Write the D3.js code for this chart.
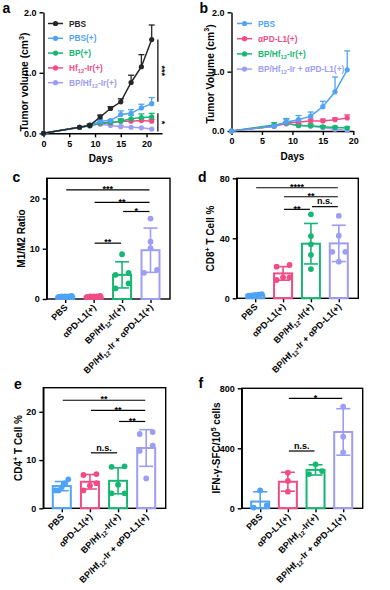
<!DOCTYPE html>
<html><head><meta charset="utf-8">
<script src="https://cdn.jsdelivr.net/npm/d3@7"></script>
<style>body{margin:0;background:#fff}text{font-family:"Liberation Sans",Arial,sans-serif;font-weight:bold}</style>
</head><body>
<svg id="fig" width="390" height="590" xmlns="http://www.w3.org/2000/svg"></svg>
<script>
// ---------- DATA ----------
const daysA = [0, 7, 9, 11, 13, 15, 17, 19, 21];
const seriesNamesA = ["PBS", "PBS(+)", "BP(+)", "Hf_{12}-Ir(+)", "BP/Hf_{12}-Ir(+)"];
const aPBS     = [0, 0.10, 0.13, 0.27, 0.41, 0.52, 0.84, 1.10, 1.55];
const aPBSErr  = [0, 0.01, 0.02, 0.03, 0.03, 0.05, 0.12, 0.20, 0.24];
const aPBSp    = [0, 0.10, 0.13, 0.20, 0.21, 0.31, 0.33, 0.42, 0.49];
const aPBSpErr = [0, 0.01, 0.02, 0.03, 0.02, 0.06, 0.06, 0.06, 0.10];
const aBP      = [0, 0.10, 0.12, 0.17, 0.18, 0.20, 0.24, 0.26, 0.27];
const aBPErr   = [0, 0.01, 0.02, 0.03, 0.03, 0.04, 0.06, 0.06, 0.06];
const aHf      = [0, 0.10, 0.13, 0.16, 0.17, 0.20, 0.20, 0.21, 0.20];
const aHfErr   = [0, 0.01, 0.02, 0.02, 0.02, 0.03, 0.03, 0.03, 0.03];
const aBPHf    = [0, 0.10, 0.14, 0.15, 0.13, 0.11, 0.10, 0.09, 0.07];
const aBPHfErr = [0, 0.01, 0.02, 0.02, 0.02, 0.02, 0.01, 0.01, 0.01];
const xTicksA = [0, 5, 10, 15, 20];
const yTicksA = [0, 1, 2];
const sigA = [[1.55, 0.52, "***"], [0.33, 0.03, "*"]];

const daysB = [0, 7, 9, 11, 13, 15, 17, 19];
const seriesNamesB = ["PBS", "αPD-L1(+)", "BP/Hf_{12}-Ir(+)", "BP/Hf_{12}-Ir + αPD-L1(+)"];
const bPBS      = [0, 0.08, 0.15, 0.19, 0.25, 0.41, 0.66, 1.03];
const bPBSErr   = [0, 0.02, 0.05, 0.07, 0.07, 0.09, 0.25, 0.32];
const bPD       = [0, 0.08, 0.14, 0.15, 0.17, 0.17, 0.19, 0.22];
const bPDErr    = [0, 0.01, 0.02, 0.02, 0.03, 0.03, 0.03, 0.05];
const bBPHf     = [0, 0.10, 0.13, 0.09, 0.09, 0.07, 0.06, 0.05];
const bBPHfErr  = [0, 0.04, 0.08, 0.03, 0.03, 0.02, 0.02, 0.02];
const bCombo    = [0, 0.08, 0.12, 0.10, 0.08, 0.06, 0.03, 0.01];
const bComboErr = [0, 0.02, 0.03, 0.02, 0.02, 0.01, 0.01, 0.01];
const xTicksB = [0, 5, 10, 15, 20];
const yTicksB = [0, 1, 2];

const groups = ["PBS", "αPD-L1(+)", "BP/Hf_{12}-Ir(+)", "BP/Hf_{12}-Ir + αPD-L1(+)"];

const cMean = [0.5, 0.5, 4.8, 9.7];
const cSD   = [0.1, 0.1, 2.6, 4.4];
const cDots = [[0.4, 0.5, 0.5, 0.6, 0.5], [0.5, 0.4, 0.6, 0.5, 0.5], [8.9, 5.2, 4.8, 3.1, 2.1], [16.0, 11.4, 10.1, 5.8, 5.2]];
const cTicks = [0, 10, 20];
const cSig = [[0, 3, "***", 21.7], [1, 3, "**", 19.2], [2, 3, "*", 17.4], [1, 2, "**", 11.1]];

const dMean = [2.3, 16.6, 36.4, 36.6];
const dSD   = [0.4, 4.5, 13.5, 12.1];
const dDots = [[2.5, 2.0, 2.8, 1.8, 2.3], [22.2, 21.1, 12.2, 14.0, 14.0], [56, 41.5, 36, 29, 19.5], [55, 41.7, 31, 31, 24.4]];
const dTicks = [0, 40, 80];
const dSig = [[0, 3, "****", 73.7], [1, 3, "**", 67.7], [1, 2, "**", 59.3], [2, 3, "n.s.", 61.1]];

const eMean = [4.6, 5.5, 5.7, 12.5];
const eSD   = [0.95, 1.5, 2.7, 3.8];
const eDots = [[6.0, 5.2, 3.7, 3.7, 4.4], [6.9, 7.1, 3.7, 4.7, 5.2], [8.7, 8.6, 4.9, 3.1, 3.1], [15.8, 15.4, 13.0, 11.9, 6.2]];
const eTicks = [0, 10, 20];
const eSig = [[0, 3, "**", 22.4], [1, 3, "**", 20.3], [2, 3, "**", 18.0], [1, 2, "n.s.", 11.5]];

const fMean = [45, 177, 256, 509];
const fSD   = [65, 63, 34, 155];
const fDots = [[120, 5, 20], [237, 182, 111], [293, 248, 228], [677, 477, 373]];
const fTicks = [0, 400, 800];
const fSig = [[1, 3, "*", 733], [1, 2, "n.s.", 382]];

// ---------- STYLE ----------
const COL = {black: "#262626", blue: "#4fa3f7", pink: "#f14c86", green: "#16b773", purple: "#9d9df6"};
const svg = d3.select("#fig");
const FONT = 9;
const LFONT = 8.3;

function rich(t, s, fs) {
  const parts = s.split(/(_\{[^}]*\}|\^\{[^}]*\})/).filter(p => p.length);
  let pending = 0;
  parts.forEach(p => {
    if (p.startsWith("_{")) {
      t.append("tspan").attr("font-size", fs * 0.7).attr("dy", fs * 0.25).text(p.slice(2, -1));
      pending = -fs * 0.25;
    } else if (p.startsWith("^{")) {
      t.append("tspan").attr("font-size", fs * 0.7).attr("dy", -fs * 0.4).text(p.slice(2, -1));
      pending = fs * 0.4;
    } else {
      const ts = t.append("tspan").text(p);
      if (pending) { ts.attr("dy", pending); pending = 0; }
    }
  });
  return t;
}

function styleAxis(g) {
  g.select(".domain").attr("stroke", "#000").attr("stroke-width", 1.4);
  g.selectAll(".tick line").attr("stroke", "#000").attr("stroke-width", 1.4);
  g.selectAll(".tick text").attr("fill", "#000").attr("font-size", FONT).attr("font-weight", "bold")
    .attr("font-family", '"Liberation Sans", Arial, sans-serif');
}

function panelLetter(l, x, y) {
  svg.append("text").attr("x", x).attr("y", y).attr("font-size", 14).attr("fill", "#000").text(l);
}

function yTitle(str, cx, cy, fs) {
  const t = svg.append("text").attr("transform", `translate(${cx},${cy}) rotate(-90)`)
    .attr("text-anchor", "middle").attr("font-size", fs).attr("fill", "#000");
  rich(t, str, fs);
}

// ---------- LINE PANELS ----------
function linePanel(o) {
  const x = d3.scaleLinear().domain(o.xDomain).range([o.left, o.right]);
  const y = d3.scaleLinear().domain(o.yDomain).range([o.bottom, o.top]);
  const g = svg.append("g");
  g.append("g").attr("transform", `translate(0,${o.bottom})`)
    .call(d3.axisBottom(x).tickValues(o.xTicks).tickSize(4).tickSizeOuter(0)).call(styleAxis);
  g.append("g").attr("transform", `translate(${o.left},0)`)
    .call(d3.axisLeft(y).tickValues(o.yTicks).tickSize(4).tickSizeOuter(0)).call(styleAxis);
  const line = d3.line().x(d => x(d[0])).y(d => y(d[1]));
  o.series.slice().reverse().forEach(s => {
    const pts = o.days.map((d, i) => [d, s.values[i], s.err[i]]);
    const sg = g.append("g");
    sg.append("path").attr("d", line(pts)).attr("fill", "none").attr("stroke", s.color).attr("stroke-width", 1.5);
    pts.forEach(p => {
      if (p[2] > 0.015) {
        sg.append("line").attr("x1", x(p[0])).attr("x2", x(p[0])).attr("y1", y(p[1])).attr("y2", y(p[1] + p[2]))
          .attr("stroke", s.color).attr("stroke-width", 1.3);
        sg.append("line").attr("x1", x(p[0]) - 3).attr("x2", x(p[0]) + 3).attr("y1", y(p[1] + p[2])).attr("y2", y(p[1] + p[2]))
          .attr("stroke", s.color).attr("stroke-width", 1.3);
      }
    });
    sg.selectAll("circle").data(pts).join("circle").attr("cx", p => x(p[0])).attr("cy", p => y(p[1]))
      .attr("r", 2.6).attr("fill", s.color);
  });
  // legend
  o.series.forEach((s, i) => {
    const ly = o.legY + i * o.legStep;
    g.append("line").attr("x1", o.legX).attr("x2", o.legX + 15).attr("y1", ly).attr("y2", ly)
      .attr("stroke", s.color).attr("stroke-width", 1.5);
    g.append("circle").attr("cx", o.legX + 7.5).attr("cy", ly).attr("r", 2.6).attr("fill", s.color);
    const t = g.append("text").attr("x", o.legX + 21).attr("y", ly + 3).attr("font-size", LFONT).attr("fill", s.color);
    rich(t, s.name, LFONT);
  });
  // x title
  g.append("text").attr("x", (o.left + o.right) / 2 + o.xTitleDx).attr("y", o.bottom + 29).attr("text-anchor", "middle")
    .attr("font-size", 10).attr("fill", "#000").text("Days");
  return {x, y, g};
}

const colA = [COL.black, COL.blue, COL.green, COL.pink, COL.purple];
const valsA = [aPBS, aPBSp, aBP, aHf, aBPHf];
const errA = [aPBSErr, aPBSpErr, aBPErr, aHfErr, aBPHfErr];
const pa = linePanel({
  left: 43.5, right: 162, top: 12.3, bottom: 133.3, xDomain: [0, 23], yDomain: [0, 2],
  xTicks: xTicksA, yTicks: yTicksA, days: daysA,
  series: seriesNamesA.map((n, i) => ({name: n, color: colA[i], values: valsA[i], err: errA[i]})),
  legX: 48, legY: 23.5, legStep: 14.8, xTitleDx: -2
});
sigA.forEach(s => {
  const xx = pa.x(22.2);
  pa.g.append("line").attr("x1", xx).attr("x2", xx).attr("y1", pa.y(s[0])).attr("y2", pa.y(s[1]))
    .attr("stroke", "#000").attr("stroke-width", 1.2);
  pa.g.append("text").attr("transform", `translate(${xx + 1.5},${(pa.y(s[0]) + pa.y(s[1])) / 2}) rotate(90)`)
    .attr("text-anchor", "middle").attr("font-size", FONT).attr("fill", "#000").text(s[2]);
});

const colB = [COL.blue, COL.pink, COL.green, COL.purple];
const valsB = [bPBS, bPD, bBPHf, bCombo];
const errB = [bPBSErr, bPDErr, bBPHfErr, bComboErr];
linePanel({
  left: 231.5, right: 353.3, top: 12.3, bottom: 131, xDomain: [0, 20], yDomain: [0, 2],
  xTicks: xTicksB, yTicks: yTicksB, days: daysB,
  series: seriesNamesB.map((n, i) => ({name: n, color: colB[i], values: valsB[i], err: errB[i]})),
  legX: 237, legY: 23.5, legStep: 15.2, xTitleDx: 0
});

yTitle("Tumor volume (cm^{3})", 28, 82, 10.3);
yTitle("Tumor Volume (cm^{3})", 213.5, 74, 10.3);

// ---------- BAR PANELS ----------
const colG = [COL.blue, COL.pink, COL.green, COL.purple];
function barPanel(o) {
  const x = d3.scalePoint().domain(groups).range([o.left + 18.5, o.right - 19.5]);
  const y = d3.scaleLinear().domain(o.yDomain).range([o.bottom, o.top]);
  const g = svg.append("g");
  g.append("g").attr("transform", `translate(${o.left},0)`)
    .call(d3.axisLeft(y).tickValues(o.ticks).tickSize(4).tickSizeOuter(0)).call(styleAxis);
  const xa = g.append("g").attr("transform", `translate(0,${o.bottom})`)
    .call(d3.axisBottom(x).tickSize(4).tickSizeOuter(0).tickFormat(""));
  styleAxis(xa);
  xa.select(".domain").remove();
  g.append("rect").attr("x", o.left).attr("y", o.top).attr("width", o.right - o.left).attr("height", o.bottom - o.top)
    .attr("fill", "none").attr("stroke", "#000").attr("stroke-width", 1.4);
  groups.forEach((gr, i) => {
    const cx = x(gr), c = colG[i];
    const bw = 18;
    g.append("rect").attr("x", cx - bw / 2).attr("y", y(o.mean[i])).attr("width", bw)
      .attr("height", Math.max(0, y(0) - y(o.mean[i]))).attr("fill", "none").attr("stroke", c).attr("stroke-width", 2);
    const lo = y(Math.max(0, o.mean[i] - o.sd[i])), hi = y(o.mean[i] + o.sd[i]);
    g.append("line").attr("x1", cx).attr("x2", cx).attr("y1", lo).attr("y2", hi).attr("stroke", c).attr("stroke-width", 1.6);
    [lo, hi].forEach(yy => g.append("line").attr("x1", cx - 7).attr("x2", cx + 7).attr("y1", yy).attr("y2", yy)
      .attr("stroke", c).attr("stroke-width", 1.6));
    const pts = o.dots[i].map(v => ({v, py: y(v)})).sort((a, b) => a.py - b.py);
    const clusters = [];
    pts.forEach(p => {
      const last = clusters[clusters.length - 1];
      if (last && p.py - last[last.length - 1].py < 5.5) last.push(p); else clusters.push([p]);
    });
    clusters.forEach(cl => {
      const n = cl.length;
      cl.sort((a, b) => b.py - a.py);
      cl.forEach((p, k) => {
        const off = n === 1 ? 0 : (k - (n - 1) / 2) * (13 / (n - 1));
        g.append("circle").attr("cx", cx + off).attr("cy", p.py).attr("r", 2.9).attr("fill", c);
      });
    });
    const t = g.append("text").attr("transform", `translate(${cx + 3},${o.bottom + 9}) rotate(-45)`)
      .attr("text-anchor", "end").attr("font-size", FONT).attr("fill", "#000");
    rich(t, gr, FONT);
  });
  o.sig.forEach(s => {
    const x1 = x(groups[s[0]]) + 1, x2 = x(groups[s[1]]) - 1, yy = y(s[3]);
    g.append("line").attr("x1", x1).attr("x2", x2).attr("y1", yy).attr("y2", yy).attr("stroke", "#000").attr("stroke-width", 1.2);
    const isNS = s[2] === "n.s.";
    g.append("text").attr("x", (x1 + x2) / 2).attr("y", isNS ? yy - 2.2 : yy + 2.2).attr("text-anchor", "middle")
      .attr("font-size", FONT).attr("fill", "#000").text(s[2]);
  });
}

barPanel({left: 46.7, right: 170, top: 178.3, bottom: 299, yDomain: [0, 24], ticks: cTicks, mean: cMean, sd: cSD, dots: cDots, sig: cSig});
barPanel({left: 236.7, right: 358.3, top: 178.3, bottom: 298.3, yDomain: [0, 80], ticks: dTicks, mean: dMean, sd: dSD, dots: dDots, sig: dSig});
barPanel({left: 43.3, right: 165.7, top: 387.7, bottom: 508.3, yDomain: [0, 25], ticks: eTicks, mean: eMean, sd: eSD, dots: eDots, sig: eSig});
barPanel({left: 241.7, right: 362.7, top: 388.3, bottom: 508.3, yDomain: [0, 800], ticks: fTicks, mean: fMean, sd: fSD, dots: fDots, sig: fSig});

yTitle("M1/M2 Ratio", 25.2, 238.5, 10);
yTitle("CD8^{+} T Cell %", 213.5, 238.5, 10);
yTitle("CD4^{+} T Cell %", 21.8, 448, 10);
yTitle("IFN-γ-SFC/10^{5} cells", 220.2, 448, 10);

panelLetter("a", 2.5, 13);
panelLetter("b", 199.5, 13);
panelLetter("c", 12.5, 182);
panelLetter("d", 198, 182);
panelLetter("e", 14, 388.5);
panelLetter("f", 198.5, 388);
</script>
</body></html>
